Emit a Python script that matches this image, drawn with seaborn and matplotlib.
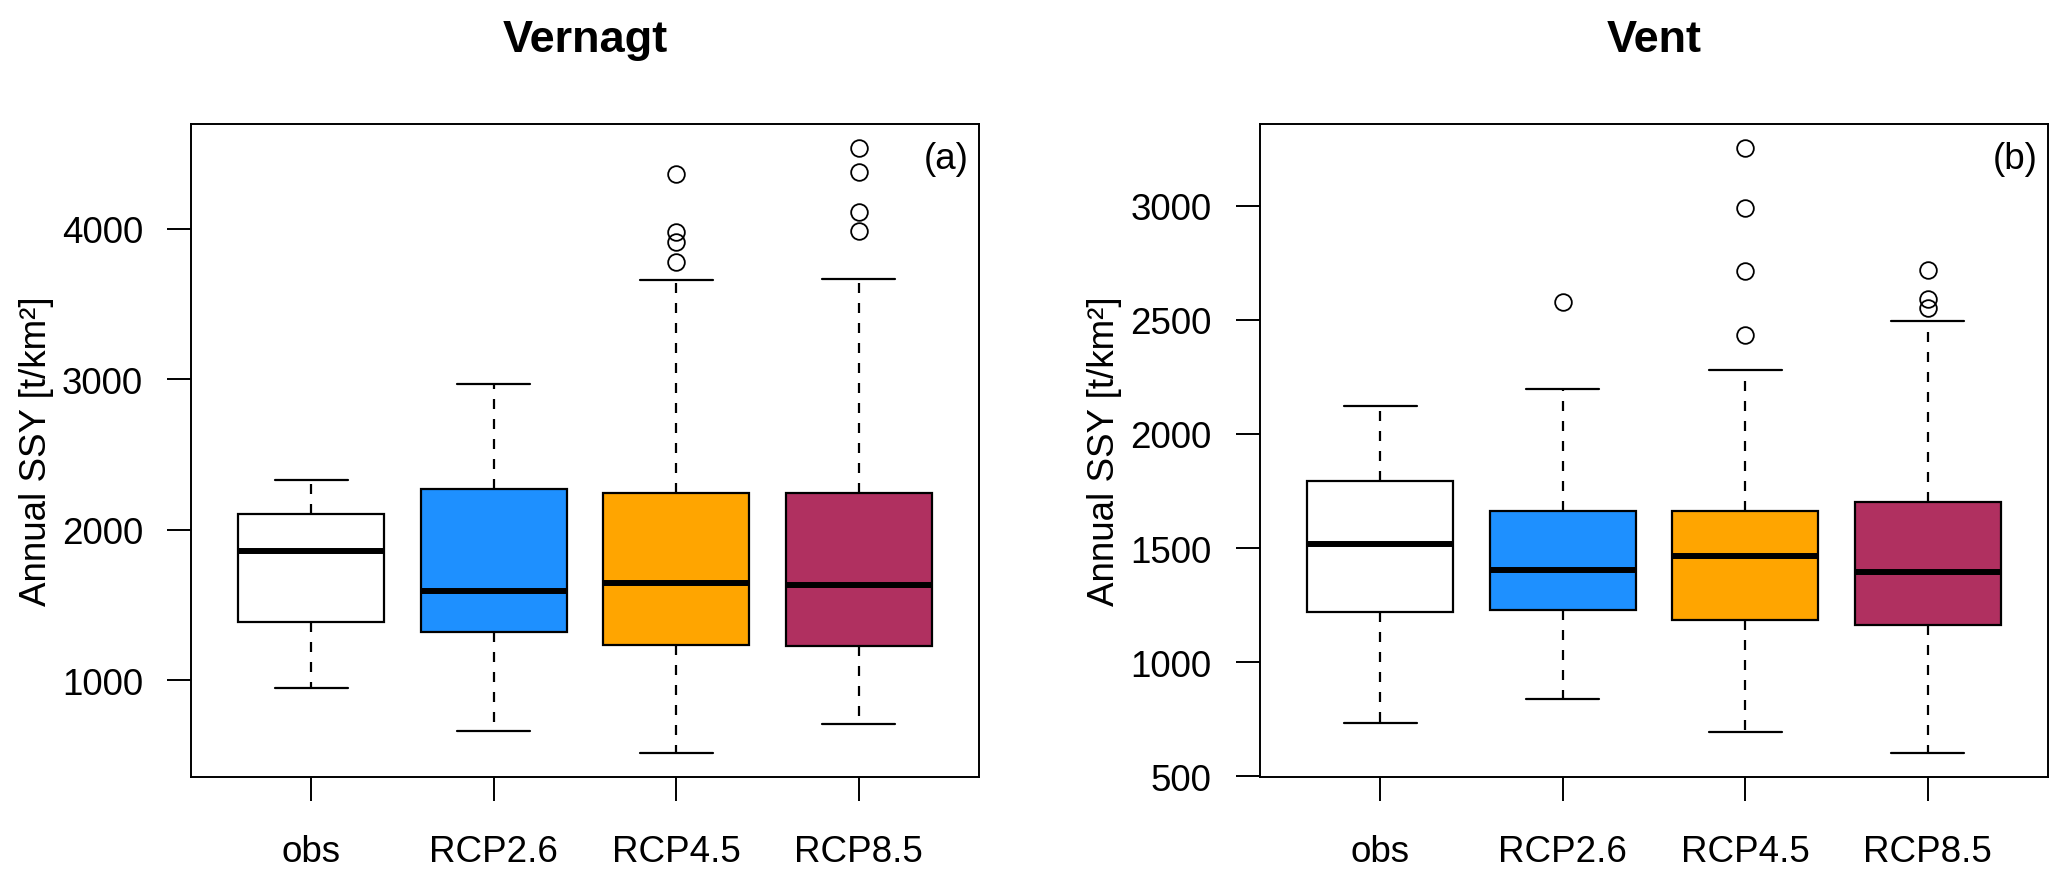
import pandas as pd
import matplotlib
matplotlib.use("Agg")
import matplotlib.pyplot as plt
import seaborn as sns

groups = ["obs", "RCP2.6", "RCP4.5", "RCP8.5"]
colors = ["#FFFFFF", "#1E90FF", "#FFA500", "#B03060"]

# Vernagt, panel (a): whisker ends, quartiles, median, outliers
vernagt_low = [951, 661, 520, 713]
vernagt_q1 = [1388, 1321, 1232, 1230]
vernagt_med = [1860, 1592, 1645, 1633]
vernagt_q3 = [2106, 2273, 2246, 2243]
vernagt_high = [2330, 2971, 3663, 3668]
vernagt_out = [[], [], [3781, 3914, 3981, 4362], [3985, 4114, 4380, 4535]]

# Vent, panel (b)
vent_low = [732, 839, 692, 604]
vent_q1 = [1218, 1228, 1184, 1164]
vent_med = [1518, 1402, 1467, 1394]
vent_q3 = [1796, 1662, 1662, 1700]
vent_high = [2121, 2196, 2282, 2497]
vent_out = [[], [2579], [2434, 2716, 2991, 3251], [2550, 2593, 2719]]

vernagt_ticks = [1000, 2000, 3000, 4000]
vent_ticks = [500, 1000, 1500, 2000, 2500, 3000]


def box_frame(low, q1, med, q3, high, out):
    # sample whose quartiles / whiskers reproduce the read-off summary
    rows = []
    for g, lo, a, m, b, hi, o in zip(groups, low, q1, med, q3, high, out):
        vals = [lo] + [a] * 10 + [m] * 10 + [b] * 10 + [hi] + o
        rows += [(g, v) for v in vals]
    return pd.DataFrame(rows, columns=["group", "ssy"])


sns.set_style("ticks")
plt.rcParams["font.family"] = ["Liberation Sans", "DejaVu Sans"]
plt.rcParams["text.color"] = "black"
plt.rcParams["axes.labelcolor"] = "black"

fig = plt.figure(figsize=(20.67, 8.78), dpi=100)
ax1 = fig.add_axes([0.0924, 0.1142, 0.3812, 0.7431])
ax2 = fig.add_axes([0.6094, 0.1142, 0.3815, 0.7431])

panels = [
    (ax1, box_frame(vernagt_low, vernagt_q1, vernagt_med, vernagt_q3, vernagt_high, vernagt_out),
     "Vernagt", "(a)", vernagt_ticks),
    (ax2, box_frame(vent_low, vent_q1, vent_med, vent_q3, vent_high, vent_out),
     "Vent", "(b)", vent_ticks),
]

for ax, d, title, tag, yt in panels:
    sns.boxplot(data=d, x="group", y="ssy", hue="group", order=groups, hue_order=groups,
                palette=dict(zip(groups, colors)), saturation=1, width=0.8, whis=1.5,
                linecolor="black", linewidth=1.6, legend=False, ax=ax,
                whiskerprops=dict(linestyle=(0, (4.5, 4.5))),
                medianprops=dict(linewidth=4.3),
                flierprops=dict(marker="o", markersize=12, markerfacecolor="none",
                                markeredgecolor="black", markeredgewidth=1.3))
    lo, hi = d["ssy"].min(), d["ssy"].max()
    pad = 0.04 * (hi - lo)
    ax.set_ylim(lo - pad, hi + pad)
    ax.set_xlim(-0.66, 3.66)
    ax.set_yticks(yt)
    ax.set_yticklabels([str(t) for t in yt])
    for s in ax.spines.values():
        s.set_visible(True)
        s.set_color("black")
        s.set_linewidth(1.4)
    ax.tick_params(axis="both", direction="out", length=17, width=1.4,
                   color="black", labelsize=26.5, labelcolor="black")
    ax.tick_params(axis="y", pad=17.5)
    ax.tick_params(axis="x", pad=24)
    ax.set_xlabel("")
    ax.set_ylabel("Annual SSY [t/km²]", fontsize=26.5, color="black")
    ax.yaxis.set_label_coords(-0.174, 0.5)
    ax.set_title(title, fontsize=32.5, fontweight="bold", pad=53, color="black")
    ax.text(0.987, 0.975, tag, transform=ax.transAxes, ha="right", va="top",
            fontsize=26.5, color="black")

fig.savefig("out.png", dpi=100)
